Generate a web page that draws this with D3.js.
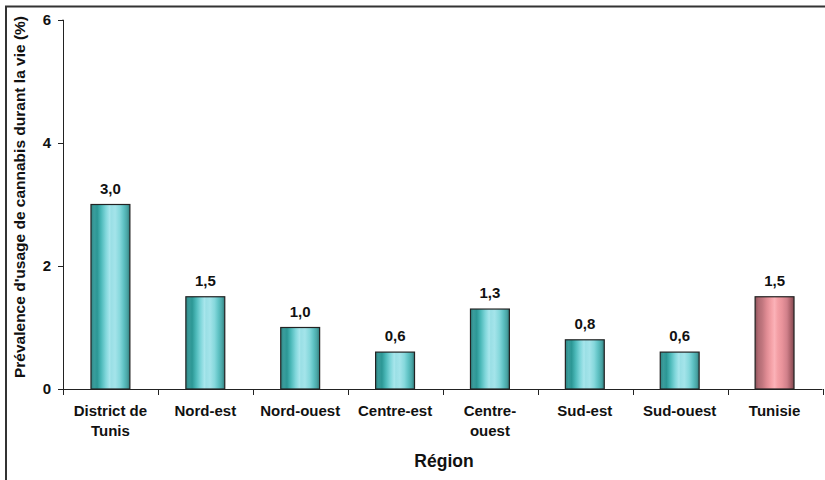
<!DOCTYPE html>
<html>
<head>
<meta charset="utf-8">
<script src="https://cdn.jsdelivr.net/npm/d3@7"></script>
<style>
  html, body { margin: 0; padding: 0; background: #fff; }
  svg { display: block; font-family: Arial, "Liberation Sans", sans-serif; }
</style>
</head>
<body>
<svg id="chart" width="825" height="480"></svg>
<script>
// Prévalence d'usage de cannabis durant la vie, par région
const regions = ["District de\nTunis", "Nord-est", "Nord-ouest", "Centre-est", "Centre-\nouest", "Sud-est", "Sud-ouest", "Tunisie"];
const values = [3.0, 1.5, 1.0, 0.6, 1.3, 0.8, 0.6, 1.5];
const valueLabels = ["3,0", "1,5", "1,0", "0,6", "1,3", "0,8", "0,6", "1,5"];
const isTotal = [false, false, false, false, false, false, false, true];
const yTicks = [0, 2, 4, 6];

const svg = d3.select("#chart");
const margin = { left: 63, right: 3, top: 20, bottom: 91 };
const W = 825, H = 480;
const FONT = "Arial, 'Liberation Sans', sans-serif";

// outer frame (only left and top edges fall inside the canvas)
svg.append("path")
  .attr("d", `M6,${H} V6.5 H${W}`)
  .attr("fill", "none").attr("stroke", "#333").attr("stroke-width", 2);

const defs = svg.append("defs");
function cylinder(id, stops) {
  const g = defs.append("linearGradient").attr("id", id)
    .attr("x1", "0%").attr("x2", "100%").attr("y1", "0%").attr("y2", "0%");
  stops.forEach(([o, c]) => g.append("stop").attr("offset", o).attr("stop-color", c));
}
cylinder("teal", [
  [0, "#2f8584"], [0.08, "#3a9d9c"], [0.16, "#2c9795"], [0.26, "#4bb8b8"],
  [0.38, "#7fd6da"], [0.48, "#a8e6ec"], [0.52, "#9adfe5"], [0.62, "#a4e4ea"],
  [0.74, "#86d8dc"], [0.84, "#5fc2c4"], [0.93, "#4aa6a6"], [1, "#327c7c"]
]);
cylinder("rose", [
  [0, "#8a5058"], [0.08, "#b06a72"], [0.18, "#c0767e"], [0.3, "#e08c94"],
  [0.42, "#f5a2a8"], [0.5, "#fbb2b8"], [0.58, "#f4a0a6"], [0.7, "#e8929a"],
  [0.82, "#d0808a"], [0.92, "#a86068"], [1, "#7e4850"]
]);

const x = d3.scaleBand().domain(d3.range(regions.length))
  .range([margin.left, 822]).paddingInner(0.59).paddingOuter(0.295);
const y = d3.scaleLinear().domain([0, 6]).range([389, 20]);

// bars
svg.append("g").selectAll("rect").data(values).join("rect")
  .attr("x", (d, i) => x(i))
  .attr("y", d => y(d))
  .attr("width", x.bandwidth())
  .attr("height", d => y(0) - y(d))
  .attr("fill", (d, i) => isTotal[i] ? "url(#rose)" : "url(#teal)")
  .attr("stroke", "#222").attr("stroke-width", 1.2);

// value labels
svg.append("g").selectAll("text").data(values).join("text")
  .attr("x", (d, i) => x(i) + x.bandwidth() / 2)
  .attr("y", d => y(d) - 11)
  .attr("text-anchor", "middle")
  .attr("font-size", 15).attr("font-weight", "bold").attr("fill", "#111")
  .text((d, i) => valueLabels[i]);

// y axis
const yAxis = svg.append("g").attr("transform", `translate(${margin.left},0)`)
  .call(d3.axisLeft(y).tickValues(yTicks).tickSize(5).tickPadding(7).tickFormat(d3.format("d")));
yAxis.select(".domain").attr("stroke", "#222").attr("d", `M-0.5,${y(6)}H0.5V${y(0)}`);
yAxis.selectAll(".tick line").attr("stroke", "#222");
yAxis.selectAll("text").attr("font-size", 15).attr("font-weight", "bold").attr("fill", "#111")
  .attr("font-family", FONT);

// x axis: baseline with category separators
const xg = svg.append("g");
xg.append("line").attr("x1", margin.left).attr("x2", 822.5)
  .attr("y1", y(0) + 0.5).attr("y2", y(0) + 0.5).attr("stroke", "#222");
const seps = d3.range(regions.length + 1).map(k => margin.left + k * (822.5 - margin.left) / regions.length);
xg.selectAll("line.sep").data(seps).join("line").attr("class", "sep")
  .attr("x1", d => Math.round(d) + 0.5).attr("x2", d => Math.round(d) + 0.5)
  .attr("y1", y(0)).attr("y2", y(0) + 6).attr("stroke", "#222");

// category labels
const lab = svg.append("g").selectAll("text").data(regions).join("text")
  .attr("x", (d, i) => x(i) + x.bandwidth() / 2)
  .attr("y", 416)
  .attr("text-anchor", "middle")
  .attr("font-size", 15).attr("font-weight", "bold").attr("fill", "#111");
lab.each(function(d) {
  const t = d3.select(this);
  d.split("\n").forEach((line, k) => {
    t.append("tspan").attr("x", t.attr("x")).attr("dy", k === 0 ? 0 : 20).text(line);
  });
});

// axis titles
svg.append("text")
  .attr("x", 444).attr("y", 467)
  .attr("text-anchor", "middle")
  .attr("font-size", 17.5).attr("font-weight", "bold").attr("fill", "#111")
  .text("Région");

svg.append("text")
  .attr("transform", `translate(25,197) rotate(-90)`)
  .attr("text-anchor", "middle")
  .attr("font-size", 15.5).attr("font-weight", "bold").attr("fill", "#111")
  .text("Prévalence d'usage de cannabis durant la vie (%)");
</script>
</body>
</html>
